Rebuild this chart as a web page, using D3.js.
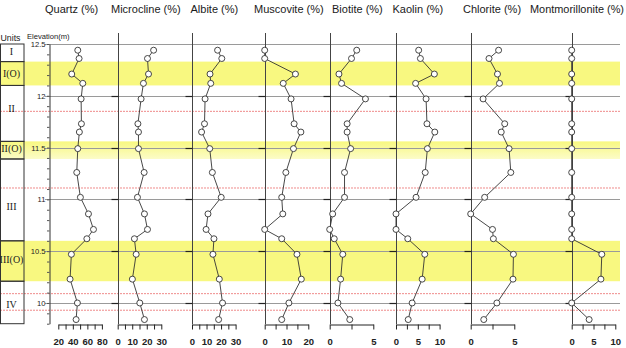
<!DOCTYPE html>
<html>
<head>
<meta charset="utf-8">
<script src="https://cdn.jsdelivr.net/npm/d3@7"></script>
<style>
body { margin: 0; background: #fff; }
svg { display: block; font-family: "Liberation Sans", Arial, sans-serif; }
</style>
</head>
<body>
<div id="chart-area"></div>
<script>
// sample elevations (m), top to bottom
const elevations = [12.44, 12.36, 12.21, 12.12, 11.97, 11.73, 11.65, 11.49, 11.26, 11.02, 10.86, 10.71, 10.62, 10.47, 10.23, 10.0, 9.84];

const minerals = ['Quartz', 'Microcline', 'Albite', 'Muscovite', 'Biotite', 'Kaolin', 'Chlorite', 'Montmorillonite'];

const quartz = [46.8, 48.6, 38.5, 53.7, 51.4, 51.8, 49, 46.8, 45.4, 50.4, 61.5, 68.4, 59.3, 38, 36.2, 46.3, 44.5];
const microcline = [24.7, 20.5, 21.2, 17.7, 16.1, 13.9, 14.3, 14.3, 18.2, 13.6, 18.4, 20.5, 11.5, 12.7, 10.1, 15.2, 18.4];
const albite = [17.6, 20.5, 12.4, 12.9, 9, 8.6, 6.6, 12.2, 14, 20.1, 11, 9.7, 15.1, 14.4, 18.8, 21, 18.3];
const muscovite = [0, 0, 14.1, 8.5, 12.1, 13.5, 16.6, 13.2, 9.7, 7.8, 8.3, 0, 7.8, 14.8, 16.8, 11.1, 7.8];
const biotite = [3.1, 2.5, 1.06, 1.36, 4.1, 2.0, 2.0, 2.4, 1.7, 1.7, 0.34, 0, 0.52, 1.5, 1.25, 0.94, 2.3];
const kaolin = [5.2, 5.6, 8.8, 4.5, 6.9, 7.1, 8.9, 7.2, 6.7, 4.6, 0, 0, 2.7, 6.6, 6.0, 3.7, 2.8];
const chlorite = [3.2, 2.1, 3.07, 3.3, 1.42, 3.9, 3.5, 4.4, 4.6, 1.6, 0, 2.5, 2.6, 4.9, 4.85, 3.0, 1.5];
const montmorillonite = [0, 0, 0, 0, 0, 0, 0, 0, 0, 0, 0, 0, 0, 6.9, 6.7, 0, 4.0];

const domains = [[20, 80], [0, 30], [0, 30], [0, 20], [0, 5], [0, 10], [0, 5], [0, 10]];
const tickLabels = [[20, 40, 60, 80], [0, 10, 20, 30], [0, 10, 20, 30], [0, 10, 20], [0, 5], [0, 5, 10], [0, 5], [0, 5, 10]];
const tickSteps = [10, 5, 5, 5, 2.5, 2.5, 2.5, 2.5];

// stratigraphic units: name, top, bottom, label elevation
const unitNames = ['I', 'I(O)', 'II', 'II(O)', 'III', 'III(O)', 'IV'];
const unitTops = [12.5, 12.33, 12.1, 11.56, 11.39, 10.6, 10.21];
const unitBottoms = [12.33, 12.1, 11.56, 11.39, 10.6, 10.21, 9.8];
const unitLabelAt = [12.43, 12.22, 11.88, 11.49, 10.93, 10.42, 9.99];

// boundaries (red dotted)
const boundaries = [11.85, 11.11, 10.09, 9.93];
const majorElev = [12.5, 12, 11.5, 11, 10.5, 10];

const seriesValues = [quartz, microcline, albite, muscovite, biotite, kaolin, chlorite, montmorillonite];

const W = 626, H = 348;
const panelLeft = [58.3, 117.7, 192, 264.7, 329.7, 396, 470.7, 571.7];
const panelWidth = 43.6;
const titleX = [45, 111, 190.5, 254, 332, 392.5, 463, 530];
const rightEdge = 620;

const svg = d3.select('#chart-area')
    .append('svg')
    .attr('width', W)
    .attr('height', H);

const yScale = d3.scaleLinear()
    .domain([9.8, 12.5])
    .range([323.7, 44]);

// yellow oxidised bands
const defs = svg.append('defs');
const grad = defs.append('linearGradient').attr('id', 'fade').attr('x1', 0).attr('y1', 0).attr('x2', 0).attr('y2', 1);
grad.append('stop').attr('offset', '0%').attr('stop-color', '#f8f880');
grad.append('stop').attr('offset', '100%').attr('stop-color', '#fcfcc8');

unitNames.forEach((u, i) => {
    if (u.indexOf('(O)') < 0) return;
    svg.append('rect')
        .attr('x', 0)
        .attr('y', yScale(unitTops[i]))
        .attr('width', rightEdge)
        .attr('height', yScale(unitBottoms[i]) - yScale(unitTops[i]))
        .attr('fill', u === 'II(O)' ? 'url(#fade)' : '#f8f880');
});

// red boundary lines
svg.selectAll('.bound')
    .data(boundaries)
    .enter().append('line')
    .attr('x1', 0).attr('x2', rightEdge)
    .attr('y1', d => yScale(d)).attr('y2', d => yScale(d))
    .attr('stroke', '#ef8a8a')
    .attr('stroke-width', 1)
    .attr('stroke-dasharray', '2,1');

// gray grid lines
svg.selectAll('.grid')
    .data(majorElev)
    .enter().append('line')
    .attr('x1', 45).attr('x2', rightEdge)
    .attr('y1', d => Math.round(yScale(d)) + 0.5).attr('y2', d => Math.round(yScale(d)) + 0.5)
    .attr('stroke', '#9a9a9a')
    .attr('stroke-width', 1);

// units column
const unitsG = svg.append('g');
unitNames.forEach((u, i) => {
    unitsG.append('rect')
        .attr('x', 0.5)
        .attr('y', yScale(unitTops[i]))
        .attr('width', 23.5)
        .attr('height', yScale(unitBottoms[i]) - yScale(unitTops[i]))
        .attr('fill', 'none')
        .attr('stroke', '#333')
        .attr('stroke-width', 1);
    unitsG.append('text')
        .text(u)
        .attr('x', 11.5)
        .attr('y', yScale(unitLabelAt[i]))
        .attr('dy', '0.35em')
        .attr('text-anchor', 'middle')
        .attr('font-family', '"Liberation Serif", "DejaVu Serif", serif')
        .attr('font-size', '10px')
        .attr('fill', '#222');
});

svg.append('text')
    .text('Units')
    .attr('x', 0.5).attr('y', 41)
    .attr('font-size', '9.5px')
    .attr('textLength', 20)
    .attr('lengthAdjust', 'spacingAndGlyphs')
    .attr('fill', '#222');

svg.append('text')
    .text('Elevation(m)')
    .attr('x', 27).attr('y', 38.5)
    .attr('font-size', '7.6px')
    .attr('fill', '#222');

// elevation axis
const minor = d3.range(98, 126, 1).map(d => d / 10);
const elevAxis = d3.axisLeft(yScale)
    .tickValues(minor)
    .tickSize(2.5)
    .tickSizeOuter(0)
    .tickFormat(d => majorElev.some(m => Math.abs(m - d) < 1e-6) ? d3.format('~g')(d) : '');
const elevG = svg.append('g')
    .attr('transform', 'translate(49.5,0)')
    .call(elevAxis);
elevG.select('.domain').attr('stroke', '#333');
elevG.selectAll('line').attr('stroke', '#555');
elevG.selectAll('text')
    .attr('x', -4)
    .attr('font-size', '7.6px')
    .attr('fill', '#222');

// panels
minerals.forEach((name, i) => {
    const x = d3.scaleLinear()
        .domain(domains[i])
        .range([panelLeft[i], panelLeft[i] + panelWidth]);
    const values = seriesValues[i];

    if (i > 0) {
        const vx = Math.round(panelLeft[i]) + 0.5;
        svg.append('line')
            .attr('x1', vx).attr('x2', vx)
            .attr('y1', 33).attr('y2', 324)
            .attr('stroke', '#444')
            .attr('stroke-width', 1);
        svg.selectAll('.tk' + i)
            .data(majorElev.slice(1))
            .enter().append('line')
            .attr('x1', vx - 7).attr('x2', vx)
            .attr('y1', d => Math.round(yScale(d)) + 0.5).attr('y2', d => Math.round(yScale(d)) + 0.5)
            .attr('stroke', '#222')
            .attr('stroke-width', 1.2);
    }

    const ticks = d3.range(domains[i][0], domains[i][1] + 0.001, tickSteps[i]);
    const axis = d3.axisBottom(x)
        .tickValues(ticks)
        .tickSize(5)
        .tickSizeOuter(0)
        .tickFormat(d => tickLabels[i].indexOf(d) >= 0 ? d : '');
    const axG = svg.append('g')
        .attr('transform', 'translate(0,324.5)')
        .call(axis);
    axG.select('.domain').attr('stroke', '#222');
    axG.selectAll('line').attr('stroke', '#222');
    axG.selectAll('text')
        .attr('y', 20)
        .attr('dy', 0)
        .attr('font-size', '9.5px')
        .attr('font-weight', 'bold')
        .attr('fill', '#222');

    const pts = values.map((v, k) => [x(v), yScale(elevations[k])]);

    svg.append('path')
        .datum(pts)
        .attr('d', d3.line())
        .attr('fill', 'none')
        .attr('stroke', '#333')
        .attr('stroke-width', 0.9);

    svg.selectAll('.pt' + i)
        .data(pts)
        .enter().append('circle')
        .attr('cx', d => d[0])
        .attr('cy', d => d[1])
        .attr('r', 3)
        .attr('fill', '#fff')
        .attr('stroke', '#333')
        .attr('stroke-width', 0.9);

    const title = svg.append('text')
        .text(name + ' (%)')
        .attr('x', titleX[i])
        .attr('y', 13)
        .attr('font-size', '11px')
        .attr('fill', '#1a1a1a');
    if (i === minerals.length - 1) {
        title.attr('textLength', 94).attr('lengthAdjust', 'spacingAndGlyphs');
    }
});
</script>
</body>
</html>
